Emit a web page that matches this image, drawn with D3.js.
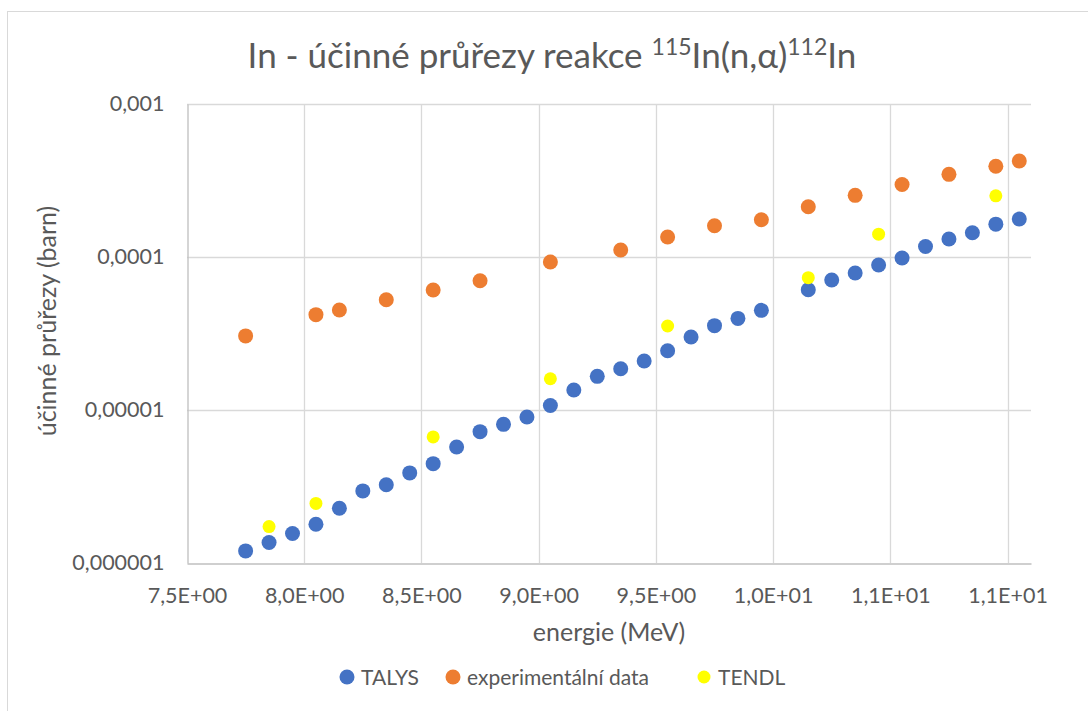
<!DOCTYPE html>
<html>
<head>
<meta charset="utf-8">
<script src="https://cdn.jsdelivr.net/npm/d3@7"></script>
<style>
  html, body { margin: 0; padding: 0; background: #fff; }
  svg { display: block; font-family: Lato, "Open Sans", sans-serif; }
</style>
</head>
<body>
<svg id="chart" width="1088" height="711"></svg>
<script>
// ---- data ----
const talysEnergy = [7.75, 7.85, 7.95, 8.05, 8.15, 8.25, 8.35, 8.45, 8.55, 8.65, 8.75, 8.85, 8.95,
  9.05, 9.15, 9.25, 9.35, 9.45, 9.55, 9.65, 9.75, 9.85, 9.95,
  10.15, 10.25, 10.35, 10.45, 10.55, 10.65, 10.75, 10.85, 10.95, 11.05];
const talysValue = [1.20e-6, 1.36e-6, 1.56e-6, 1.79e-6, 2.28e-6, 2.96e-6, 3.25e-6, 3.88e-6, 4.46e-6,
  5.73e-6, 7.22e-6, 8.06e-6, 9.0e-6, 1.07e-5, 1.35e-5, 1.66e-5, 1.86e-5, 2.09e-5, 2.44e-5,
  3.0e-5, 3.56e-5, 3.97e-5, 4.48e-5, 6.11e-5, 7.07e-5, 7.86e-5, 8.86e-5, 9.85e-5, 1.17e-4,
  1.31e-4, 1.44e-4, 1.64e-4, 1.77e-4];
const expEnergy = [7.75, 8.05, 8.15, 8.35, 8.55, 8.75, 9.05, 9.35, 9.55, 9.75, 9.95,
  10.15, 10.35, 10.55, 10.75, 10.95, 11.05];
const expValue = [3.05e-5, 4.2e-5, 4.5e-5, 5.26e-5, 6.08e-5, 7.0e-5, 9.27e-5, 1.11e-4, 1.35e-4,
  1.60e-4, 1.75e-4, 2.13e-4, 2.53e-4, 2.98e-4, 3.47e-4, 3.92e-4, 4.24e-4];
const tendlEnergy = [7.85, 8.05, 8.55, 9.05, 9.55, 10.15, 10.45, 10.95];
const tendlValue = [1.73e-6, 2.45e-6, 6.67e-6, 1.60e-5, 3.54e-5, 7.33e-5, 1.41e-4, 2.51e-4];

const xTicks = [7.5, 8.0, 8.5, 9.0, 9.5, 10.0, 10.5, 11.0];
const xTickLabels = ["7,5E+00", "8,0E+00", "8,5E+00", "9,0E+00", "9,5E+00", "1,0E+01", "1,1E+01", "1,1E+01"];
const yTicks = [1e-6, 1e-5, 1e-4, 1e-3];
const yTickLabels = ["0,000001", "0,00001", "0,0001", "0,001"];

const seriesNames = ["TALYS", "experimentální data", "TENDL"];
const seriesColors = ["#4472C4", "#ED7D31", "#FFFF00"];

// ---- layout ----
const svg = d3.select("#chart");
const plot = { left: 187, right: 1031, top: 104, bottom: 563 };
const x = d3.scaleLinear().domain([7.5, 11.1]).range([plot.left, plot.right]);
const y = d3.scaleLog().domain([1e-6, 1e-3]).range([plot.bottom, plot.top]);
const textColor = "#595959";

// chart border
svg.append("rect").attr("x", 7.5).attr("y", 11.5).attr("width", 1100).attr("height", 720)
  .attr("fill", "#fff").attr("stroke", "#d9d9d9").attr("stroke-width", 1);

// gridlines
const g = svg.append("g");
g.append("g").selectAll("line").data(xTicks.slice(1)).join("line")
  .attr("x1", d => Math.round(x(d)) + 0.5).attr("x2", d => Math.round(x(d)) + 0.5)
  .attr("y1", plot.top).attr("y2", plot.bottom)
  .attr("stroke", "#d9d9d9").attr("stroke-width", 1.3);
g.append("g").selectAll("line").data(yTicks.slice(1)).join("line")
  .attr("x1", plot.left).attr("x2", plot.right)
  .attr("y1", d => Math.round(y(d)) + 0.5).attr("y2", d => Math.round(y(d)) + 0.5)
  .attr("stroke", "#d9d9d9").attr("stroke-width", 1.3);

// axes
const xAxis = d3.axisBottom(x).tickValues(xTicks).tickSize(0).tickPadding(24)
  .tickFormat((d, i) => xTickLabels[i]);
const gx = svg.append("g").attr("transform", `translate(0,${plot.bottom + 0.5})`).call(xAxis);
gx.select(".domain").attr("stroke", "#bfbfbf").attr("stroke-width", 1.3);
gx.selectAll("text").attr("fill", textColor).style("font-size", "21.5px").attr("font-family", null);

const yAxis = d3.axisLeft(y).tickValues(yTicks).tickSize(0).tickPadding(23)
  .tickFormat((d, i) => yTickLabels[i]);
const gy = svg.append("g").attr("transform", `translate(${plot.left + 0.5},0)`).call(yAxis);
gy.select(".domain").attr("stroke", "#bfbfbf").attr("stroke-width", 1.3);
gy.selectAll("text").attr("fill", textColor).style("font-size", "21.5px");
gx.attr("font-family", null); gy.attr("font-family", null);

// points
function drawSeries(energy, values, color, r) {
  svg.append("g").selectAll("circle").data(energy.map((e, i) => [e, values[i]])).join("circle")
    .attr("cx", d => x(d[0])).attr("cy", d => y(d[1])).attr("r", r)
    .attr("fill", color);
}
drawSeries(talysEnergy, talysValue, seriesColors[0], 7.5);
drawSeries(expEnergy, expValue, seriesColors[1], 7.5);
drawSeries(tendlEnergy, tendlValue, seriesColors[2], 6.5);

// title
const title = svg.append("text").attr("x", 552).attr("y", 68).attr("text-anchor", "middle")
  .attr("fill", textColor).style("font-size", "35px");
title.append("tspan").text("In - účinné průřezy reakce ");
title.append("tspan").text("115").attr("dy", -13).style("font-size", "23px");
title.append("tspan").text("In(n,α)").attr("dy", 13);
title.append("tspan").text("112").attr("dy", -13).style("font-size", "23px");
title.append("tspan").text("In").attr("dy", 13);

// axis titles
svg.append("text").attr("x", 609).attr("y", 641).attr("text-anchor", "middle")
  .attr("fill", textColor).style("font-size", "25px").text("energie (MeV)");
svg.append("text").attr("transform", "translate(56,321) rotate(-90)").attr("text-anchor", "middle")
  .attr("fill", textColor).style("font-size", "25px").text("účinné průřezy (barn)");

// legend
const legendX = [347, 453, 704];
const leg = svg.append("g");
seriesNames.forEach((name, i) => {
  leg.append("circle").attr("cx", legendX[i]).attr("cy", 677).attr("r", i === 2 ? 6.5 : 7.5)
    .attr("fill", seriesColors[i]);
  leg.append("text").attr("x", legendX[i] + 14).attr("y", 685).attr("fill", textColor)
    .style("font-size", "21px").text(name);
});
</script>
</body>
</html>
